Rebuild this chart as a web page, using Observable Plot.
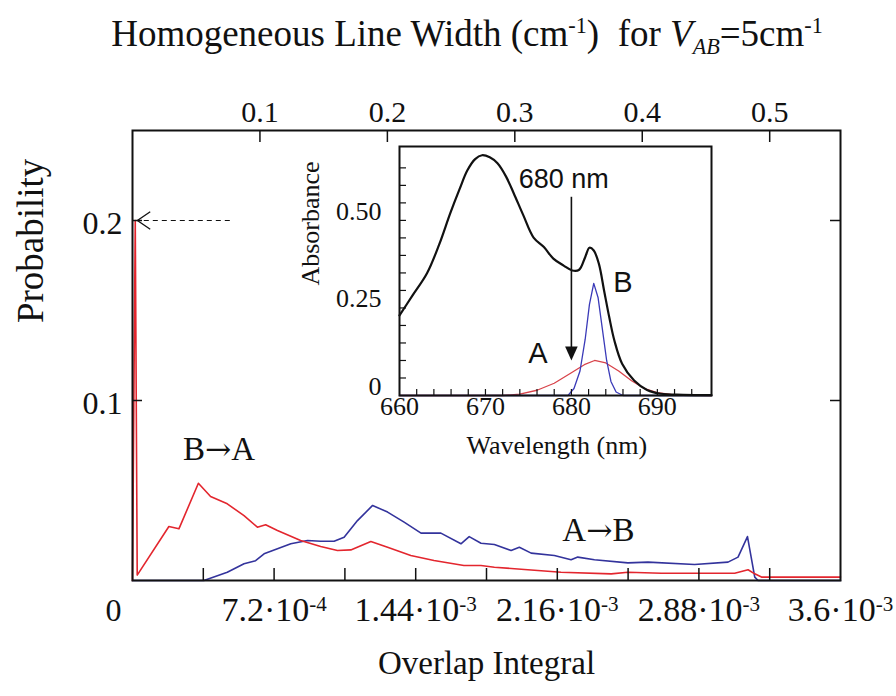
<!DOCTYPE html>
<html>
<head>
<meta charset="utf-8">
<script src="https://cdn.jsdelivr.net/npm/d3@7"></script>
<script src="https://cdn.jsdelivr.net/npm/@observablehq/plot@0.6"></script>
<style>
  body { margin: 0; background: #fff; }
  #wrap { position: relative; width: 896px; height: 696px; overflow: hidden; background: #fff; }
  #wrap > svg { position: absolute; left: 0; top: 0; }
  #title { position: absolute; left: 0; top: 13px; width: 934px; text-align: center;
           font-family: "Liberation Serif", serif; font-size: 37px; line-height: 42px; color: #111; white-space: nowrap; }
  #title sup, #title sub { font-size: 0.6em; line-height: 0; }
</style>
</head>
<body>
<div id="wrap">
  <div id="title">Homogeneous Line Width (cm<sup>-1</sup>)&nbsp; for <i>V<sub>AB</sub></i>=5cm<sup>-1</sup></div>
</div>
<script>
// ---------------- data ----------------
// overlap integral in units of 10^-3 per unit of homogeneous line width (V_AB = 5 cm^-1)
const overlapPerWidth = 6.48;
const widthTicks = [0.1, 0.2, 0.3, 0.4, 0.5];
const widthTickLabels = ["0.1", "0.2", "0.3", "0.4", "0.5"];
const overlapTicks = [0.36, 0.72, 1.08, 1.44, 1.80, 2.16, 2.52, 2.88, 3.24];
const overlapLabelTicks = [0.72, 1.44, 2.16, 2.88, 3.6];
const overlapTickLabels = ["7.2·10-4", "1.44·10-3", "2.16·10-3", "2.88·10-3", "3.6·10-3"];
const probTicks = [0.1, 0.2];
const probTickLabels = ["0.1", "0.2"];

// B→A transfer (red): [overlap integral ×10^-3, probability]
const probBA = [
  [0.000, 0.000], [0.014, 0.200], [0.024, 0.003], [0.185, 0.030], [0.236, 0.0287],
  [0.335, 0.054], [0.397, 0.0467], [0.482, 0.0426], [0.567, 0.036], [0.635, 0.0296],
  [0.677, 0.031], [0.737, 0.0278], [0.855, 0.0222], [0.957, 0.0189], [1.042, 0.0167],
  [1.110, 0.017], [1.212, 0.0217], [1.297, 0.0185], [1.415, 0.0139], [1.533, 0.0111],
  [1.685, 0.0083], [1.772, 0.0083], [1.840, 0.0074], [2.010, 0.0060], [2.179, 0.0046],
  [2.434, 0.0037], [2.519, 0.0046], [2.689, 0.0040], [2.858, 0.0040], [3.062, 0.0040],
  [3.130, 0.0060], [3.164, 0.0037], [3.198, 0.0019], [3.600, 0.0019]
];
// A→B transfer (blue)
const probAB = [
  [0.000, 0.000], [0.363, 0.000], [0.482, 0.0046], [0.567, 0.0093], [0.626, 0.011],
  [0.669, 0.0148], [0.737, 0.0176], [0.805, 0.0204], [0.890, 0.0222], [0.957, 0.0218],
  [1.025, 0.0218], [1.076, 0.024], [1.144, 0.0333], [1.221, 0.0417], [1.297, 0.038],
  [1.381, 0.0324], [1.467, 0.0263], [1.568, 0.0263], [1.670, 0.0204], [1.712, 0.0244],
  [1.772, 0.0207], [1.840, 0.0200], [1.925, 0.0167], [1.967, 0.0185], [2.027, 0.0152],
  [2.145, 0.0139], [2.230, 0.0115], [2.264, 0.0130], [2.349, 0.0115], [2.519, 0.0098],
  [2.621, 0.0102], [2.858, 0.0089], [3.028, 0.0102], [3.079, 0.0130], [3.127, 0.0244],
  [3.164, 0.0019], [3.181, 0.000], [3.600, 0.000]
];

// inset: absorbance spectrum [wavelength nm, absorbance]
const absTotal = [
  [660.0, 0.229], [661.5, 0.285], [663.2, 0.349], [664.6, 0.43], [665.9, 0.52],
  [667.0, 0.59], [667.9, 0.643], [668.8, 0.675], [669.6, 0.686], [670.5, 0.680],
  [671.4, 0.663], [672.4, 0.625], [673.3, 0.577], [674.4, 0.515], [675.6, 0.451],
  [676.8, 0.424], [677.9, 0.391], [679.1, 0.371], [680.1, 0.357], [680.9, 0.359],
  [681.6, 0.395], [682.1, 0.422], [682.6, 0.414], [683.2, 0.376], [683.8, 0.300],
  [684.4, 0.224], [685.0, 0.157], [685.9, 0.091], [687.3, 0.043], [688.8, 0.016],
  [690.4, 0.005], [693.0, 0.002], [696.3, 0.001]
];
const absB = [
  [660.0, 0], [679.6, 0], [680.3, 0.02], [681.0, 0.07], [681.6, 0.16], [682.1, 0.26],
  [682.6, 0.32], [683.1, 0.28], [683.6, 0.19], [684.1, 0.10], [684.6, 0.04],
  [685.2, 0.01], [686.0, 0], [696.3, 0]
];
const absA = [
  [660.0, 0], [672.0, 0], [674.0, 0.004], [676.0, 0.015], [678.0, 0.035], [680.0, 0.065],
  [681.5, 0.088], [682.7, 0.100], [684.0, 0.093], [685.5, 0.070], [687.0, 0.042],
  [688.5, 0.020], [690.0, 0.008], [692.0, 0.002], [696.3, 0]
];
const wlTickLabels = [660, 670, 680, 690];
const absTickLabels = [[0.5, "0.50"], [0.25, "0.25"], [0, "0"]];

// ---------------- symbols ----------------
const chevronLeft = {
  draw(ctx, size) {
    const r = Math.sqrt(size / Math.PI);
    ctx.moveTo(r * 0.8, -r * 0.55);
    ctx.lineTo(0, 0);
    ctx.lineTo(r * 0.8, r * 0.55);
  }
};
const triangleDown = {
  draw(ctx, size) {
    const r = Math.sqrt(size / Math.PI);
    ctx.moveTo(0, 0);
    ctx.lineTo(-r * 0.45, -r);
    ctx.lineTo(r * 0.45, -r);
    ctx.closePath();
  }
};

const serif = "Liberation Serif";
const sans = "Liberation Sans";
const red = "#e3262e";
const blue = "#33339c";

// ---------------- main chart ----------------
const main = Plot.plot({
  width: 896, height: 696,
  marginLeft: 132, marginRight: 56, marginTop: 130, marginBottom: 116,
  x: {domain: [0, 3.6], axis: null},
  y: {domain: [0, 0.25], axis: null},
  style: {background: "transparent", fontFamily: serif, color: "#111"},
  marks: [
    Plot.line(probAB, {x: d => d[0], y: d => d[1], stroke: blue, strokeWidth: 1.6}),
    Plot.line(probBA, {x: d => d[0], y: d => d[1], stroke: red, strokeWidth: 1.6}),
    Plot.frame({stroke: "#111", strokeWidth: 2}),
    Plot.tickX(overlapTicks, {x: d => d, insetTop: 438, stroke: "#111", strokeWidth: 1.5}),
    Plot.tickX(widthTicks, {x: d => d * overlapPerWidth, insetBottom: 438, stroke: "#111", strokeWidth: 1.5}),
    Plot.tickY(probTicks, {y: d => d, insetRight: 698, stroke: "#111", strokeWidth: 1.5}),
    Plot.tickY(probTicks, {y: d => d, insetLeft: 698, stroke: "#111", strokeWidth: 1.5}),
    // dashed pointer to the 0.2 spike
    Plot.ruleY([0.2], {x1: 0.06, x2: 0.508, stroke: "#111", strokeWidth: 1.2, strokeDasharray: "5,4"}),
    Plot.dot([0.2], {x: 0.025, y: d => d, symbol: chevronLeft, r: 16, stroke: "#111", fill: "none", strokeWidth: 1.3}),
    // tick labels
    Plot.text(widthTicks, {x: d => d * overlapPerWidth, frameAnchor: "top", dy: -30,
      text: (d, i) => widthTickLabels[i], fontSize: 30, fontFamily: serif}),
    Plot.text(overlapLabelTicks, {x: d => d, frameAnchor: "bottom", dy: 40,
      text: (d, i) => overlapTickLabels[i], fontSize: 34, fontFamily: serif}),
    Plot.text(probTicks, {y: d => d, frameAnchor: "left", dx: -10, dy: 3, textAnchor: "end",
      text: (d, i) => probTickLabels[i], fontSize: 32, fontFamily: serif}),
    Plot.text(["0"], {x: 0, y: 0, dx: -19, dy: 30, fontSize: 32, fontFamily: serif}),
    // axis titles
    Plot.text(["Overlap Integral"], {x: 1.80, frameAnchor: "bottom", dy: 93, fontSize: 33, fontFamily: serif}),
    Plot.text(["Probability"], {y: 0.143, frameAnchor: "left", dx: -101, rotate: -90, fontSize: 37, fontFamily: serif}),
    // series labels
    Plot.text(["B→A"], {x: 0.44, y: 0.073, fontSize: 33, fontFamily: serif}),
    Plot.text(["A→B"], {x: 2.369, y: 0.0278, fontSize: 33, fontFamily: serif})
  ]
});

// superscript exponents in the overlap tick labels; wider arrow glyph in the series labels
d3.select(main).selectAll("text").each(function () {
  const s = this.textContent;
  const m = s.match(/^(.*·10)(-\d)$/);
  const a = s.match(/^(.)→(.)$/);
  const t = d3.select(this);
  if (m) {
    t.text(null);
    t.append("tspan").text(m[1]);
    t.append("tspan").attr("dy", "-0.45em").attr("font-size", "0.62em").text(m[2]);
  } else if (a) {
    t.text(null);
    t.append("tspan").text(a[1]);
    t.append("tspan").attr("font-family", "DejaVu Serif").attr("font-size", "0.95em").text("→");
    t.append("tspan").text(a[2]);
  }
});

// ---------------- inset: absorbance spectrum ----------------
const inset = Plot.plot({
  width: 896, height: 696,
  marginLeft: 399, marginRight: 185, marginTop: 146, marginBottom: 301,
  x: {domain: [660, 696.3], axis: null},
  y: {domain: [0, 0.711], axis: null},
  style: {background: "transparent", fontFamily: serif, color: "#111"},
  marks: [
    Plot.line(absA, {x: d => d[0], y: d => d[1], stroke: "#d8434a", strokeWidth: 1.3}),
    Plot.line(absB, {x: d => d[0], y: d => d[1], stroke: "#3a3ab8", strokeWidth: 1.3}),
    Plot.line(absTotal, {x: d => d[0], y: d => d[1], stroke: "#111", strokeWidth: 2.2, curve: "catmull-rom"}),
    Plot.frame({stroke: "#111", strokeWidth: 2}),
    Plot.tickY(d3.range(0.05, 0.70, 0.05), {y: d => d, insetRight: 305, stroke: "#111", strokeWidth: 1.2}),
    Plot.tickX(d3.range(662, 696, 2), {x: d => d, insetTop: 243, stroke: "#111", strokeWidth: 1.2}),
    Plot.text(wlTickLabels, {x: d => d, frameAnchor: "bottom", dy: 19, fontSize: 26, fontFamily: serif}),
    Plot.text(absTickLabels, {y: d => d[0], text: d => d[1], frameAnchor: "left", dx: -18, dy: -9,
      textAnchor: "end", fontSize: 26, fontFamily: serif}),
    Plot.text(["Wavelength (nm)"], {x: 678.3, frameAnchor: "bottom", dy: 58, fontSize: 26, fontFamily: serif}),
    Plot.text(["Absorbance"], {y: 0.314, frameAnchor: "left", dx: -89, rotate: -90, fontSize: 26, fontFamily: serif}),
    // 680 nm excitation arrow
    Plot.ruleX([680], {y1: 0.566, y2: 0.13, stroke: "#111", strokeWidth: 1.6}),
    Plot.dot([680], {x: d => d, y: 0.10, symbol: triangleDown, r: 14, fill: "#111", stroke: "none"}),
    Plot.text(["680 nm"], {x: 679.1, y: 0.617, fontSize: 27, fontFamily: sans}),
    Plot.text(["A"], {x: 676.1, y: 0.12, fontSize: 29, fontFamily: sans}),
    Plot.text(["B"], {x: 686.0, y: 0.323, fontSize: 29, fontFamily: sans})
  ]
});

const wrap = document.getElementById("wrap");
wrap.insertBefore(main, wrap.firstChild);
wrap.appendChild(inset);
</script>
</body>
</html>
